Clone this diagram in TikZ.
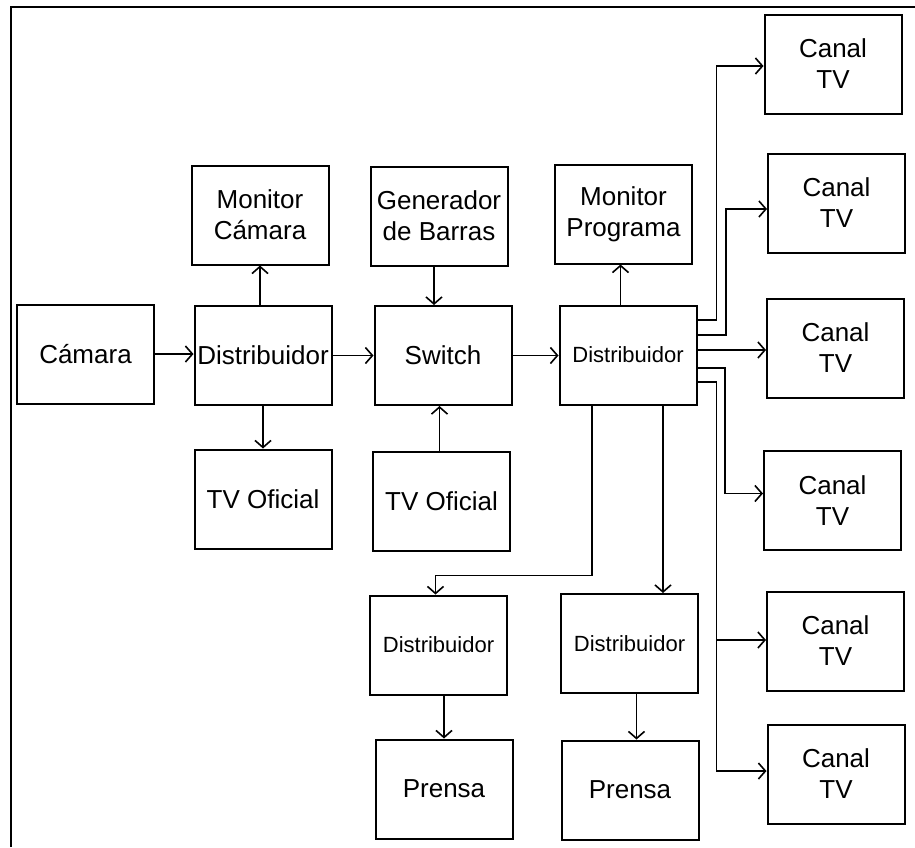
\documentclass[tikz,border=0pt]{standalone}
\usepackage{fontspec}
\setmainfont{Liberation Sans}
\usetikzlibrary{arrows.meta, calc}
\tikzset{
  unit/.style={rectangle, draw=black, line width=1pt, minimum width=68.5pt,
               minimum height=49.5pt, inner sep=0pt, align=center,
               font=\fontsize{13}{15.5}\selectfont},
  sunit/.style={unit, font=\fontsize{11}{13}\selectfont},
  feed/.style={-{Straight Barb[length=3.5pt, width=8pt]}, line width=0.8pt, color=black},
}

\begin{document}
\begin{tikzpicture}[x=0.5pt, y=-0.5pt]
        \useasboundingbox (0,0) rectangle (915,847);
        % frame
        \draw[line width=1pt] (11,847) -- (11,7) -- (915,7);

        % camera chain
        \node[unit] (cam) at (85.5, 354) {Cámara};
        \node[unit] (dA) at (263, 355.5) {Distribuidor};
        \node[unit] (monC) at (260, 215) {Monitor\\Cámara};
        \node[unit] (tvA) at (263, 499) {TV Oficial};

        % switch
        \node[unit] (gen) at (439, 216) {Generador\\de Barras};
        \node[unit] (sw) at (443, 355.5) {Switch};
        \node[unit] (tvB) at (441.5, 501) {TV Oficial};

        % program distribution
        \node[sunit] (dB) at (628, 355) {Distribuidor};
        \node[unit] (monP) at (623.5, 214) {Monitor\\Programa};

        % TV channels
        \node[unit] (c1) at (833, 64) {Canal\\TV};
        \node[unit] (c2) at (836.5, 203) {Canal\\TV};
        \node[unit] (c3) at (835.5, 348) {Canal\\TV};
        \node[unit] (c4) at (832.5, 500.5) {Canal\\TV};
        \node[unit] (c5) at (835.5, 641) {Canal\\TV};
        \node[unit] (c6) at (836, 774) {Canal\\TV};

        % press
        \node[sunit] (dC) at (438.5, 645) {Distribuidor};
        \node[sunit] (dD) at (629.5, 643.5) {Distribuidor};
        \node[unit] (pr1) at (444, 789) {Prensa};
        \node[unit] (pr2) at (630, 790) {Prensa};

        % connectors
        \draw[feed] (cam.east) -- (cam.east -| dA.west);
        \draw[feed] (monC.south |- dA.north) -- (monC.south);
        \draw[feed] (dA.south) -- (tvA.north);
        \draw[feed] (dA.east) -- (dA.east -| sw.west);
        \draw[feed] ($(gen.south)+(-5,0)$) coordinate (g) -- (g |- sw.north);
        \draw[feed] ($(tvB.north)+(-2,0)$) coordinate (t) -- (t |- sw.south);
        \draw[feed] (sw.east) -- (sw.east -| dB.west);
        \coordinate (m) at ($(monP.south)+(-3,0)$);
        \draw[feed] (m |- dB.north) -- (m);

        % to the channels
        \draw[feed] ($(dB.east)+(0,-35)$) -| ($(c1.west)+(-47,2)$) -- ($(c1.west)+(0,2)$);
        \draw[feed] ($(dB.east)+(0,-20)$) -| ($(c2.west)+(-41,6)$) -- ($(c2.west)+(0,6)$);
        \draw[feed] ($(dB.east)+(0,-5)$) -- ($(c3.west)+(0,2)$);
        \draw[feed] ($(dB.east)+(0,13)$) -| ($(c4.west)+(-38,-7)$) -- ($(c4.west)+(0,-7)$);
        \draw[feed] ($(dB.east)+(0,27)$) -| ($(c6.west)+(-50,-3)$) -- ($(c6.west)+(0,-3)$);
        \coordinate (tap) at ($(c5.west)+(-50,-1)$);
        \draw[feed] (tap) -- ($(c5.west)+(0,-1)$);

        % to the press
        \draw[feed] ($(dB.south)+(-36,0)$) |- ($(dC.north)+(-3,-19)$) -- ($(dC.north)+(-3,0)$);
        \draw[feed] ($(dB.south)+(35,0)$) coordinate (d) -- (d |- dD.north);
        \draw[feed] (pr1.north |- dC.south) -- (pr1.north);
        \draw[feed] ($(dD.south)+(7,0)$) coordinate (e) -- (e |- pr2.north);
      \end{tikzpicture}
\end{document}
